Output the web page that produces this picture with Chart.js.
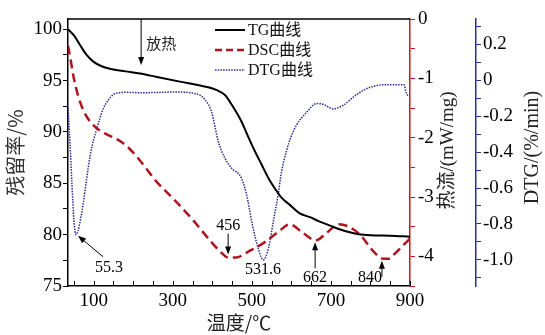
<!DOCTYPE html>
<html>
<head>
<meta charset="utf-8">
<script src="https://cdn.jsdelivr.net/npm/chart.js@4.4.1/dist/chart.umd.min.js"></script>
<style>
  html, body { margin: 0; padding: 0; background: #fff; }
</style>
</head>
<body>
<canvas id="thermoChart" width="545" height="335"></canvas>
<script>
// TG curve (residual %)
const tgTemp   = [35, 50, 65, 80, 99, 120, 141, 180, 217, 260, 318, 360, 390, 410, 432, 450, 474, 490, 508, 525, 542, 560, 575, 596, 620, 647, 670, 700, 720, 745, 770, 800, 850, 900];
const tgValues = [100.0, 99.4, 98.5, 97.6, 96.85, 96.4, 96.15, 95.9, 95.7, 95.35, 94.9, 94.6, 94.35, 94.1, 93.6, 92.6, 91.0, 89.6, 88.1, 86.8, 85.5, 84.4, 83.6, 82.9, 82.1, 81.7, 81.3, 80.85, 80.55, 80.25, 80.05, 79.95, 79.9, 79.8];

// DSC curve (heat flow mW/mg)
const dscTemp   = [35, 42, 48, 56, 65, 80, 99, 120, 141, 165, 185, 205, 226, 260, 300, 350, 390, 420, 440, 460, 491, 533, 570, 595, 630, 662, 690, 720, 745, 774, 808, 833, 845, 867, 885, 900];
const dscValues = [-0.45, -0.7, -0.94, -1.18, -1.39, -1.62, -1.79, -1.9, -1.97, -2.05, -2.15, -2.29, -2.46, -2.75, -3.02, -3.38, -3.7, -3.92, -4.02, -4.02, -3.92, -3.76, -3.57, -3.46, -3.61, -3.73, -3.6, -3.46, -3.5, -3.64, -3.92, -4.04, -4.04, -3.92, -3.8, -3.7];

// DTG curve (%/min)
const dtgTemp   = [35, 40, 45, 50, 55, 60, 67, 74, 82, 91, 100, 108, 116, 124, 137, 150, 165, 183, 220, 268, 300, 330, 350, 370, 382, 398, 415, 432, 449, 474, 487, 500, 516, 529, 542, 554, 567, 575, 588, 600, 613, 638, 664, 681, 706, 731, 765, 799, 841, 885, 889, 895];
const dtgValues = [-0.15, -0.35, -0.58, -0.78, -0.86, -0.84, -0.77, -0.68, -0.55, -0.42, -0.33, -0.27, -0.21, -0.16, -0.11, -0.08, -0.07, -0.068, -0.07, -0.068, -0.066, -0.067, -0.072, -0.085, -0.11, -0.176, -0.34, -0.435, -0.49, -0.546, -0.64, -0.79, -0.935, -1.0, -0.935, -0.79, -0.63, -0.51, -0.39, -0.31, -0.25, -0.18, -0.13, -0.135, -0.16, -0.14, -0.08, -0.04, -0.025, -0.025, -0.06, -0.09];

const serif = '"Liberation Serif", "Times New Roman", "Noto Sans CJK SC", serif';
const cjk = '"Noto Sans CJK SC", "Liberation Serif", sans-serif';

function toPoints(xs, ys) {
    return xs.map((x, i) => ({ x: x, y: ys[i] }));
}

// top border of the frame, and the bottom ticks pointing inward
const framePlugin = {
    id: 'frame',
    afterDraw(chart) {
        const { ctx, chartArea } = chart;
        const sx = chart.scales.x;
        ctx.save();
        ctx.strokeStyle = '#000';
        ctx.lineWidth = 1.5;
        ctx.beginPath();
        ctx.moveTo(chartArea.left, chartArea.top);
        ctx.lineTo(chartArea.right, chartArea.top);
        ctx.stroke();
        ctx.lineWidth = 1;
        sx.ticks.forEach(t => {
            const px = Math.round(sx.getPixelForValue(t.value)) + 0.5;
            ctx.beginPath();
            ctx.moveTo(px, chartArea.bottom);
            ctx.lineTo(px, chartArea.bottom - 5);
            ctx.stroke();
        });
        ctx.restore();
    }
};

// legend inside the plot
const legendPlugin = {
    id: 'innerLegend',
    afterDraw(chart) {
        const ctx = chart.ctx;
        ctx.save();
        chart.data.datasets.forEach((ds, i) => {
            const y = 30 + i * 20;
            ctx.strokeStyle = ds.borderColor;
            ctx.lineWidth = ds.borderWidth;
            ctx.setLineDash(i === 1 ? [7, 4] : (ds.borderDash || []));
            ctx.beginPath();
            ctx.moveTo(215, y);
            ctx.lineTo(245, y);
            ctx.stroke();
            ctx.setLineDash([]);
            ctx.fillStyle = '#111';
            ctx.font = '16px ' + serif;
            ctx.textBaseline = 'middle';
            ctx.fillText(ds.label, 248, y + 1);
        });
        ctx.restore();
    }
};

function arrow(ctx, x1, y1, x2, y2) {
    const a = Math.atan2(y2 - y1, x2 - x1);
    ctx.beginPath();
    ctx.moveTo(x1, y1);
    ctx.lineTo(x2 - 5 * Math.cos(a), y2 - 5 * Math.sin(a));
    ctx.stroke();
    ctx.beginPath();
    ctx.moveTo(x2, y2);
    ctx.lineTo(x2 - 8 * Math.cos(a) + 3 * Math.sin(a), y2 - 8 * Math.sin(a) - 3 * Math.cos(a));
    ctx.lineTo(x2 - 8 * Math.cos(a) - 3 * Math.sin(a), y2 - 8 * Math.sin(a) + 3 * Math.cos(a));
    ctx.closePath();
    ctx.fill();
}

// peak labels and arrows
const notesPlugin = {
    id: 'notes',
    afterDraw(chart) {
        const { ctx, chartArea } = chart;
        const sx = chart.scales.x, sd = chart.scales.yDSC, sg = chart.scales.yDTG;
        ctx.save();
        ctx.strokeStyle = '#000';
        ctx.fillStyle = '#000';
        ctx.lineWidth = 1;
        ctx.textAlign = 'center';
        ctx.textBaseline = 'middle';

        // 放热
        let px = sx.getPixelForValue(220);
        arrow(ctx, px, chartArea.top, px, chartArea.top + 46);
        ctx.font = '15px ' + cjk;
        ctx.textAlign = 'left';
        ctx.fillStyle = '#222';
        ctx.fillText('放热', px + 5, chartArea.top + 24);
        ctx.textAlign = 'center';
        ctx.fillStyle = '#000';
        ctx.font = '16px ' + serif;

        // 55.3
        px = sx.getPixelForValue(55.3);
        let py = sg.getPixelForValue(-0.86);
        arrow(ctx, px + 27, py + 22, px + 2, py + 1);
        ctx.fillText('55.3', px + 33, py + 33);

        // 456
        px = sx.getPixelForValue(440);
        py = sd.getPixelForValue(-4.02);
        arrow(ctx, px, py - 24, px, py - 3);
        ctx.fillText('456', px, py - 32);

        // 531.6
        px = sx.getPixelForValue(528);
        py = sg.getPixelForValue(-1.0);
        ctx.fillText('531.6', px, py + 10);

        // 662
        px = sx.getPixelForValue(660);
        py = sd.getPixelForValue(-3.73);
        arrow(ctx, px, py + 28, px, py + 2);
        ctx.fillText('662', px, py + 37);

        // 840
        px = sx.getPixelForValue(829);
        py = sd.getPixelForValue(-4.04);
        arrow(ctx, px, py + 18, px, py + 2);
        ctx.fillText('840', px - 12, py + 19);

        ctx.restore();
    }
};

// right-hand axis titles read bottom-to-top
const rightTitles = {
    id: 'rightTitles',
    afterDraw(chart) {
        const ctx = chart.ctx;
        const sd = chart.scales.yDSC, sg = chart.scales.yDTG;
        const mid = (chart.chartArea.top + chart.chartArea.bottom) / 2;
        ctx.save();
        ctx.fillStyle = '#222';
        ctx.textAlign = 'center';
        ctx.textBaseline = 'middle';
        ctx.font = '19px ' + serif;
        ctx.translate(sd.right - 28, mid - 2);
        ctx.rotate(-Math.PI / 2);
        ctx.fillText('热流/(mW/mg)', 0, 0);
        ctx.restore();

        ctx.save();
        ctx.fillStyle = '#222';
        ctx.textAlign = 'center';
        ctx.textBaseline = 'middle';
        ctx.font = '20px ' + serif;
        ctx.translate(sg.right - 12, mid - 5);
        ctx.rotate(-Math.PI / 2);
        ctx.fillText('DTG/(%/min)', 0, 0);
        ctx.restore();
    }
};

const tickFont = { family: serif, size: 19 };

new Chart(document.getElementById('thermoChart'), {
    type: 'line',
    data: {
        datasets: [{
            label: 'TG曲线',
            data: toPoints(tgTemp, tgValues),
            yAxisID: 'yTG',
            borderColor: '#000000',
            borderWidth: 2,
            pointRadius: 0,
            cubicInterpolationMode: 'monotone'
        }, {
            label: 'DSC曲线',
            data: toPoints(dscTemp, dscValues),
            yAxisID: 'yDSC',
            borderColor: '#b0141e',
            borderWidth: 2.5,
            borderDash: [9, 5],
            pointRadius: 0,
            cubicInterpolationMode: 'monotone'
        }, {
            label: 'DTG曲线',
            data: toPoints(dtgTemp, dtgValues),
            yAxisID: 'yDTG',
            borderColor: '#2c2c94',
            borderWidth: 1.5,
            borderDash: [1.5, 1.2],
            pointRadius: 0,
            cubicInterpolationMode: 'monotone'
        }]
    },
    options: {
        responsive: false,
        animation: false,
        layout: { padding: { top: 19, left: 0, right: 0, bottom: 0 } },
        plugins: {
            legend: { display: false },
            tooltip: { enabled: false }
        },
        scales: {
            x: {
                type: 'linear',
                position: 'bottom',
                min: 35,
                max: 900,
                ticks: {
                    stepSize: 50,
                    includeBounds: false,
                    autoSkip: false,
                    maxRotation: 0,
                    color: '#000',
                    padding: 4,
                    font: tickFont,
                    callback: v => ((v - 100) % 200 === 0 ? v : '')
                },
                grid: { drawOnChartArea: false, drawTicks: false, color: '#000' },
                border: { color: '#000', width: 1.5 },
                title: {
                    display: true,
                    text: '温度/℃',
                    color: '#222',
                    font: { family: cjk, size: 19 },
                    padding: { top: 0, bottom: 1 }
                },
                afterFit: s => { s.height = 49; }
            },
            yTG: {
                position: 'left',
                min: 75,
                max: 101,
                ticks: {
                    stepSize: 2.5,
                    includeBounds: false,
                    autoSkip: false,
                    color: '#000',
                    padding: 1,
                    font: tickFont,
                    callback: v => (v % 5 === 0 ? v : '')
                },
                grid: { drawOnChartArea: false, color: '#000', tickLength: 5 },
                border: { color: '#000', width: 1.5 },
                title: {
                    display: true,
                    text: '残留率/%',
                    color: '#333',
                    font: { family: cjk, size: 20 },
                    padding: { top: 3, bottom: 0 }
                },
                afterFit: s => { s.width = 68; }
            },
            yDSC: {
                position: 'right',
                weight: 0,
                min: -4.5,
                max: 0,
                ticks: {
                    stepSize: 0.5,
                    includeBounds: false,
                    autoSkip: false,
                    color: '#000',
                    padding: 3,
                    font: tickFont,
                    callback: v => (Number.isInteger(v) ? String(v) : '')
                },
                grid: { drawOnChartArea: false, color: '#c8161d', tickLength: 5 },
                border: { color: '#c8161d', width: 1.5 },
                afterFit: s => { s.width = 66; }
            },
            yDTG: {
                position: 'right',
                weight: 1,
                min: -1.145,
                max: 0.34,
                ticks: {
                    stepSize: 0.1,
                    includeBounds: false,
                    autoSkip: false,
                    color: '#000',
                    padding: 2,
                    font: tickFont,
                    callback: v => {
                        const k = Math.round(v * 10);
                        if (k % 2 !== 0) return '';
                        return k === 0 ? '0' : (k / 10).toFixed(1);
                    }
                },
                grid: { drawOnChartArea: false, color: '#2a2a9c', tickLength: 5 },
                border: { color: '#2a2a9c', width: 1.5 },
                afterFit: s => { s.width = 69; }
            }
        }
    },
    plugins: [framePlugin, legendPlugin, notesPlugin, rightTitles]
});
</script>
</body>
</html>
